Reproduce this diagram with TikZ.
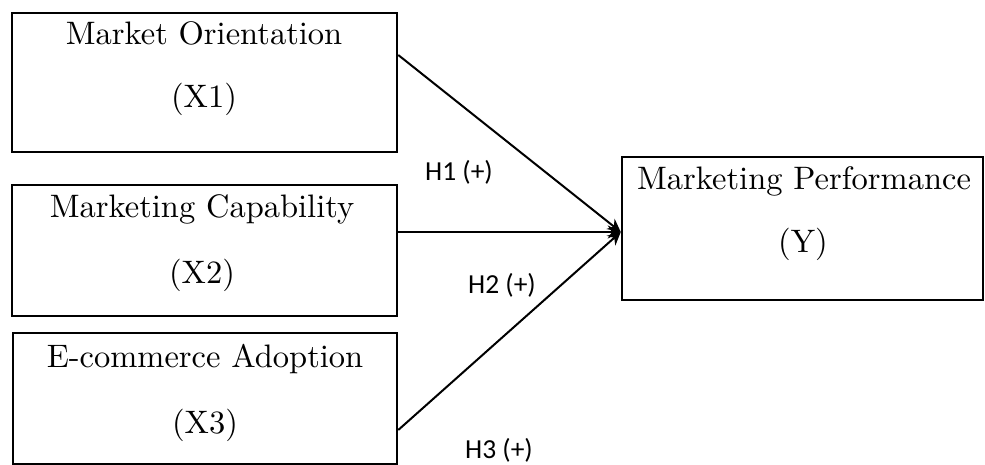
\documentclass[tikz,border=0pt]{standalone}
\usepackage{fontspec}
\setmainfont{lmroman10-regular.otf}
\newfontfamily\lblfont{Carlito}
\usetikzlibrary{arrows.meta}
\tikzset{
  boxnode/.style={draw, line width=2.5pt, rectangle, inner sep=0pt},
  boxtext/.style={anchor=base, inner sep=0pt, font=\fontsize{32.5}{38}\selectfont},
  hyplabel/.style={inner sep=0pt, font=\lblfont\fontsize{27.5}{32}\selectfont},
  conn/.style={line width=2pt, -{Stealth[length=13pt,width=13pt]}}
}
\begin{document}
\begin{tikzpicture}[x=1pt,y=-1pt]
\useasboundingbox (0,0) rectangle (985,465);
% boxes
\node[boxnode, minimum width=385pt, minimum height=139pt] (b1) at (204.5,82.5) {};
\node[boxnode, minimum width=385pt, minimum height=131pt] (b2) at (204.5,250.5) {};
\node[boxnode, minimum width=384pt, minimum height=131pt] (b3) at (205,398.5) {};
\node[boxnode, minimum width=361pt, minimum height=143pt] (y) at (802.5,228.5) {};
% box texts
\node[boxtext] (t1a) at (204,45) {Market Orientation};
\node[boxtext] (t1b) at (204,108) {(X1)};
\node[boxtext] (t2a) at (202,218) {Marketing Capability};
\node[boxtext] (t2b) at (202,283) {(X2)};
\node[boxtext] (t3a) at (205,367) {E-commerce Adoption};
\node[boxtext] (t3b) at (205,433) {(X3)};
\node[boxtext] (tya) at (804,190) {Marketing Performance};
\node[boxtext] (tyb) at (803,252) {(Y)};
% connectors
\coordinate (tip) at ([yshift=-3.5pt]y.west);
\draw[conn] ([yshift=27.5pt]b1.east) -- (tip);
\draw[conn] ([yshift=18.5pt]b2.east) -- (tip);
\draw[conn] ([yshift=-31.5pt]b3.east) -- (tip);
% labels
\node[hyplabel] (h1) at (459,172) {H1 (+)};
\node[hyplabel] (h2) at (502,285) {H2 (+)};
\node[hyplabel] (h3) at (499,450) {H3 (+)};
\end{tikzpicture}
\end{document}
